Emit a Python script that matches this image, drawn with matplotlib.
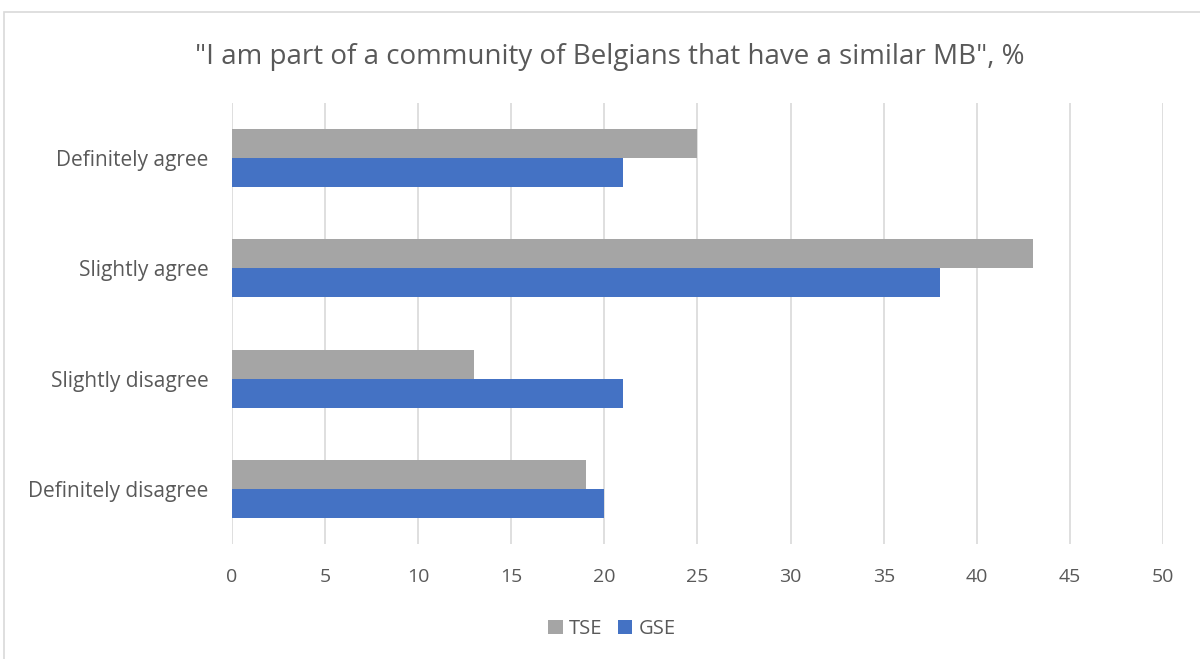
import matplotlib.pyplot as plt
import matplotlib.patches as patches
import numpy as np

categories = ['Definitely disagree', 'Slightly disagree', 'Slightly agree', 'Definitely agree']
tse = [19, 13, 43, 25]
gse = [20, 21, 38, 21]

plt.rcParams['font.family'] = ['Open Sans', 'DejaVu Sans']
text_color = '#595959'

fig = plt.figure(figsize=(12, 6.59), dpi=100)
ax = fig.add_axes([0.1933, 1 - 544 / 659, 0.7759, (544 - 103) / 659])

y = np.arange(len(categories))
h = 0.264
ax.barh(y + h / 2, tse, height=h, color='#a5a5a5', label='TSE', zorder=3)
ax.barh(y - h / 2, gse, height=h, color='#4472c4', label='GSE', zorder=3)

ax.set_xlim(0, 50)
ax.set_ylim(-0.5, len(categories) - 0.5)
ax.set_xticks(np.arange(0, 51, 5))
ax.set_yticks(y)
ax.set_yticklabels(categories)
ax.tick_params(axis='both', length=0, labelsize=14, colors=text_color)
ax.tick_params(axis='y', labelsize=15, pad=17)
ax.tick_params(axis='x', pad=17)
ax.grid(axis='x', color='#d9d9d9', linewidth=1.2, zorder=0)
for s in ax.spines.values():
    s.set_visible(False)

fig.suptitle('"I am part of a community of Belgians that have a similar MB", %',
             x=0.508, y=0.935, fontsize=20, color=text_color)

fig.legend(loc='center', bbox_to_anchor=(612 / 1200, 1 - 629 / 659), ncol=2, frameon=False,
           fontsize=14.5, labelcolor=text_color, handlelength=0.7, handleheight=0.7,
           columnspacing=0.8, handletextpad=0.3)

border = patches.Rectangle((4 / 1200, -0.1), 1.2, 1 - 12 / 659 + 0.1,
                           transform=fig.transFigure, fill=False,
                           edgecolor='#d9d9d9', linewidth=1.2)
fig.patches.append(border)

fig.savefig('out.png', dpi=100)
